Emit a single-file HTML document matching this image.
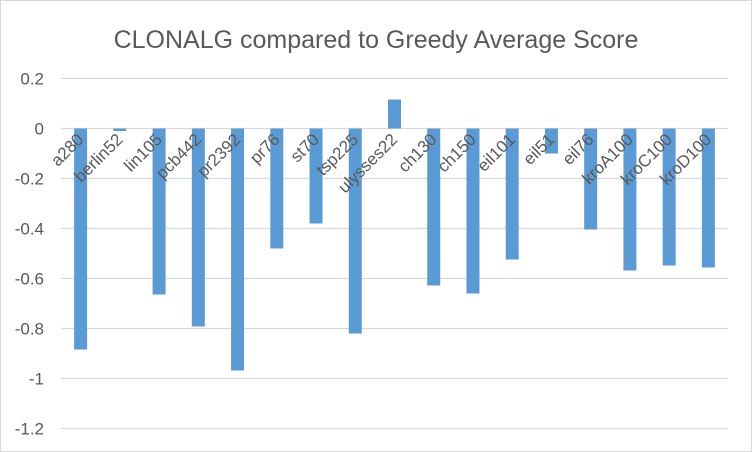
<!DOCTYPE html>
<html><head><meta charset="utf-8"><style>
html,body{margin:0;padding:0;background:#fff}
svg{display:block;font-family:"Liberation Sans",Calibri,sans-serif}
</style></head><body>
<svg id="chart" width="752" height="452">
<rect x="0.5" y="0.5" width="751" height="451" fill="#fff" stroke="#d9d9d9"/>
<text x="376" y="48" text-anchor="middle" font-size="25" fill="#595959">CLONALG compared to Greedy Average Score</text>
<g id="grid"></g><g id="bars"></g><g id="labels"></g>
</svg>
<script>
const categories=["a280","berlin52","lin105","pcb442","pr2392","pr76","st70","tsp225","ulysses22","ch130","ch150","eil101","eil51","eil76","kroA100","kroC100","kroD100"];
const values=[-0.884,-0.01,-0.664,-0.792,-0.968,-0.48,-0.38,-0.82,0.116,-0.628,-0.66,-0.524,-0.1,-0.404,-0.568,-0.548,-0.556];
const ticks=[0.2,0,-0.2,-0.4,-0.6,-0.8,-1,-1.2];
const tickLabels=["0.2","0","-0.2","-0.4","-0.6","-0.8","-1","-1.2"];
const NS="http://www.w3.org/2000/svg";
const left=61,right=728,zeroY=128.5,pxPerUnit=250;
const y=v=>zeroY-v*pxPerUnit;
const step=(right-left)/categories.length;
const xc=i=>left+step*(i+0.5);
function mk(t,a,p){const e=document.createElementNS(NS,t);for(const k in a)e.setAttribute(k,a[k]);p.appendChild(e);return e;}
const grid=document.getElementById('grid'),bars=document.getElementById('bars'),labels=document.getElementById('labels');
ticks.forEach((t,i)=>{
 const l=mk('line',{x1:left,x2:right,y1:y(t),y2:y(t),stroke:'#d9d9d9','stroke-width':1.3},grid);
 
 
 const tx=mk('text',{x:44,y:y(t)+6,'text-anchor':'end','font-size':17,fill:'#595959'},grid);
 tx.textContent=tickLabels[i];
 
 
});
categories.forEach((c,i)=>{
 const v=values[i],bw=13;
 const r=mk('rect',{x:xc(i)-bw/2,y:Math.min(y(v),zeroY),width:bw,height:Math.abs(y(v)-zeroY),fill:'#5b9bd5'},bars);
 
 
 const cx=xc(i)+4,cy=zeroY+12;
 const t=mk('text',{x:cx,y:cy,'text-anchor':'end','font-size':17,fill:'#595959',transform:`rotate(-45 ${cx} ${cy})`},labels);
 t.textContent=c;
 
 
});
</script>
</body></html>
